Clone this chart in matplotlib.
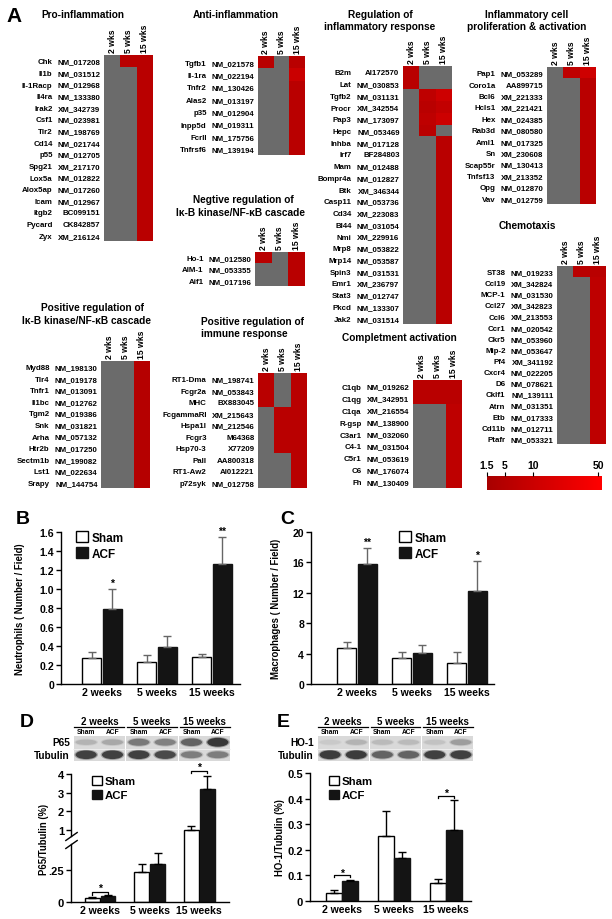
import numpy as np
import matplotlib
matplotlib.use('Agg')
import matplotlib.pyplot as plt
from matplotlib.colors import LinearSegmentedColormap, FuncNorm
from matplotlib.patches import Patch, Ellipse, Rectangle
from matplotlib.cm import ScalarMappable

plt.rcParams['font.family'] = ['Liberation Sans', 'DejaVu Sans']
plt.rcParams['font.weight'] = 'bold'
plt.rcParams['axes.labelweight'] = 'bold'

na = np.nan

# ---- panel A: fold changes (2 wks, 5 wks, 15 wks); nan = not changed (grey)
wks_short = ['2 wks', '5 wks', '15 wks']

pro_genes = ['Chk', 'Il1b', 'Il-1Racp', 'Il4ra', 'Irak2', 'Csf1', 'Tlr2', 'Cd14',
             'p55', 'Spg21', 'Lox5a', 'Alox5ap', 'Icam', 'Itgb2', 'Pycard', 'Zyx']
pro_ids = ['NM_017208', 'NM_031512', 'NM_012968', 'NM_133380', 'XM_342739', 'NM_023981',
           'NM_198769', 'NM_021744', 'NM_012705', 'XM_217170', 'NM_012822', 'NM_017260',
           'NM_012967', 'BC099151', 'CK842857', 'XM_216124']
pro_fc = [(na, 6, 6), (na, na, 6), (na, na, 6), (na, na, 6), (na, na, 6), (na, na, 6),
          (na, na, 6), (na, na, 6), (na, na, 6), (na, na, 6), (na, na, 6), (na, na, 6),
          (na, na, 6), (na, na, 6), (na, na, 6), (na, na, 6)]

anti_genes = ['Tgfb1', 'Il-1ra', 'Tnfr2', 'Alas2', 'p35', 'Inpp5d', 'FcrII', 'Tnfrsf6']
anti_ids = ['NM_021578', 'NM_022194', 'NM_130426', 'NM_013197', 'NM_012904', 'NM_019311',
            'NM_175756', 'NM_139194']
anti_fc = [(6, na, 6), (na, na, 10), (na, na, 6), (na, na, 6), (na, na, 6), (na, na, 6),
           (na, na, 6), (na, na, 6)]

neg_genes = ['Ho-1', 'AIM-1', 'Aif1']
neg_ids = ['NM_012580', 'NM_053355', 'NM_017196']
neg_fc = [(6, na, 6), (na, na, 6), (na, na, 6)]

posnf_genes = ['Myd88', 'Tlr4', 'Tnfr1', 'Il1bc', 'Tgm2', 'Snk', 'Arha', 'Htr2b', 'Sectm1b',
               'Lst1', 'Srapy']
posnf_ids = ['NM_198130', 'NM_019178', 'NM_013091', 'NM_012762', 'NM_019386', 'NM_031821',
             'NM_057132', 'NM_017250', 'NM_199082', 'NM_022634', 'NM_144754']
posnf_fc = [(na, na, 5), (na, na, 5), (na, na, 5), (na, na, 5), (na, na, 5), (na, na, 5),
            (na, na, 5), (na, na, 5), (na, na, 5), (na, na, 5), (na, na, 5)]

posimm_genes = ['RT1-Dma', 'Fcgr2a', 'MHC', 'FcgammaRI', 'Hspa1l', 'Fcgr3', 'Hsp70-3',
                'Pall', 'RT1-Aw2', 'p72syk']
posimm_ids = ['NM_198741', 'NM_053843', 'BX883045', 'XM_215643', 'NM_212546', 'M64368',
              'X77209', 'AA800318', 'AI012221', 'NM_012758']
posimm_fc = [(6, na, 6), (6, na, 6), (6, na, 6), (na, 6, 6), (na, 6, 6), (na, 6, 6),
             (na, 6, 6), (na, na, 6), (na, na, 6), (na, na, 6)]

reg_genes = ['B2m', 'Lat', 'Tgfb2', 'Procr', 'Pap3', 'Hepc', 'Inhba', 'Irf7', 'Mam',
             'Bompr4a', 'Btk', 'Casp11', 'Cd34', 'Bl44', 'Nmi', 'Mrp8', 'Mrp14', 'Spin3',
             'Emr1', 'Stat3', 'Pkcd', 'Jak2']
reg_ids = ['AI172570', 'NM_030853', 'NM_031131', 'XM_342554', 'NM_173097', 'NM_053469',
           'NM_017128', 'BF284803', 'NM_012488', 'NM_012827', 'XM_346344', 'NM_053736',
           'XM_223083', 'NM_031054', 'XM_229916', 'NM_053822', 'NM_053587', 'NM_031531',
           'XM_236797', 'NM_012747', 'NM_133307', 'NM_031514']
reg_fc = [(6, na, na), (6, na, na), (na, 7, 12), (na, 6, 8), (na, 7, 11), (na, 6, na),
          (na, na, 6), (na, na, 6), (na, na, 6), (na, na, 6), (na, na, 6), (na, na, 6),
          (na, na, 6), (na, na, 6), (na, na, 6), (na, na, 6), (na, na, 6), (na, na, 6),
          (na, na, 6), (na, na, 6), (na, na, 6), (na, na, 6)]

compl_genes = ['C1qb', 'C1qg', 'C1qa', 'R-gsp', 'C3ar1', 'C4-1', 'C5r1', 'C6', 'Fh']
compl_ids = ['NM_019262', 'XM_342951', 'XM_216554', 'NM_138900', 'NM_032060', 'NM_031504',
             'NM_053619', 'NM_176074', 'NM_130409']
compl_fc = [(6, 6, 6), (6, 6, 6), (na, na, 7), (na, na, 7), (na, na, 7), (na, na, 7),
            (na, na, 7), (na, na, 7), (na, na, 7)]

prolif_genes = ['Pap1', 'Coro1a', 'Bcl6', 'Hcls1', 'Hex', 'Rab3d', 'Aml1', 'Sn', 'Scap55r',
                'Tnfsf13', 'Opg', 'Vav']
prolif_ids = ['NM_053289', 'AA899715', 'XM_221333', 'XM_221421', 'NM_024385', 'NM_080580',
              'NM_017325', 'XM_230608', 'NM_130413', 'XM_213352', 'NM_012870', 'NM_012759']
prolif_fc = [(na, 7, 13), (na, na, 6), (na, na, 6), (na, na, 6), (na, na, 6), (na, na, 6),
             (na, na, 6), (na, na, 6), (na, na, 6), (na, na, 6), (na, na, 6), (na, na, 6)]

chemo_genes = ['ST38', 'Ccl19', 'MCP-1', 'Ccl27', 'Ccl6', 'Ccr1', 'Ckr5', 'Mip-2', 'Pf4',
               'Cxcr4', 'D6', 'Cklf1', 'Atrn', 'Etb', 'Cd11b', 'Ptafr']
chemo_ids = ['NM_019233', 'XM_342824', 'NM_031530', 'XM_342823', 'XM_213553', 'NM_020542',
             'NM_053960', 'NM_053647', 'XM_341192', 'NM_022205', 'NM_078621', 'NM_139111',
             'NM_031351', 'NM_017333', 'NM_012711', 'NM_053321']
chemo_fc = [(na, 6, 6), (na, na, 7), (na, na, 7), (na, na, 7), (na, na, 7), (na, na, 7),
            (na, na, 7), (na, na, 7), (na, na, 7), (na, na, 7), (na, na, 7), (na, na, 7),
            (na, na, 7), (na, na, 7), (na, na, 7), (na, na, 7)]

cbar_ticks = [1.5, 5, 10, 50]

# ---- panels B-E
weeks = ['2 weeks', '5 weeks', '15 weeks']

neut_sham = [0.277, 0.235, 0.288]
neut_sham_err = [0.063, 0.07, 0.031]
neut_acf = [0.786, 0.393, 1.26]
neut_acf_err = [0.214, 0.112, 0.29]
neut_stars = ['*', '', '**']

mac_sham = [4.79, 3.38, 2.81]
mac_sham_err = [0.70, 0.88, 1.37]
mac_acf = [15.74, 4.09, 12.18]
mac_acf_err = [2.2, 1.05, 4.0]
mac_stars = ['**', '', '*']

p65_sham = [0.030, 0.234, 1.0]
p65_sham_err = [0.007, 0.066, 0.21]
p65_acf = [0.047, 0.297, 3.19]
p65_acf_err = [0.004, 0.083, 0.70]
p65_stars = ['*', '', '*']

ho1_sham = [0.031, 0.253, 0.070]
ho1_sham_err = [0.011, 0.10, 0.017]
ho1_acf = [0.078, 0.168, 0.279]
ho1_acf_err = [0.003, 0.023, 0.117]
ho1_stars = ['*', '', '*']

lanes = ['Sham', 'ACF', 'Sham', 'ACF', 'Sham', 'ACF']
p65_band = [0.35, 0.4, 0.62, 0.58, 0.72, 0.92]
d_tub_band = [0.88, 0.88, 0.88, 0.84, 0.6, 0.6]
ho1_band = [0.25, 0.35, 0.32, 0.32, 0.28, 0.45]
e_tub_band = [0.9, 0.9, 0.72, 0.72, 0.88, 0.88]

W, H = 612, 920
fig = plt.figure(figsize=(6.12, 9.2), dpi=100)


def add_px(x0, y0, x1, y1):
    return fig.add_axes([x0 / W, 1 - y1 / H, (x1 - x0) / W, (y1 - y0) / H])


def ftext(x, y, s, **kw):
    kw.setdefault('va', 'center')
    return fig.text(x / W, 1 - y / H, s, **kw)


# colour scale of the heat maps (bar is not linear in fold change)
fc_v = [0, 1.5, 5, 10, 50, 53, 1000]
fc_t = [-0.1, 0, 0.157, 0.4, 0.965, 1.0, 40]
norm = FuncNorm((lambda v: np.interp(v, fc_v, fc_t), lambda t: np.interp(t, fc_t, fc_v)),
                vmin=1.5, vmax=53)
cmap = LinearSegmentedColormap.from_list('fc', ['#a80000', '#ff0000'])
cmap.set_bad('#6b6b6b')


def heat(genes, ids, fc, x0, y0, x1, y1):
    ax = add_px(x0, y0, x1, y1)
    ax.imshow(np.array(fc, dtype=float), cmap=cmap, norm=norm, aspect='auto',
              interpolation='nearest')
    ax.set_xticks([0, 1, 2], wks_short, rotation=90, fontsize=6.2)
    ax.xaxis.tick_top()
    ax.set_yticks(range(len(ids)), ids, fontsize=5.7)
    ax.tick_params(length=0, pad=2.5)
    for s in ax.spines.values():
        s.set_visible(False)
    for i, g in enumerate(genes):
        ax.annotate(g, (0, i), xycoords=('axes fraction', 'data'), xytext=(-37, 0),
                    textcoords='offset points', ha='right', va='center_baseline',
                    fontsize=5.7)
    return ax


ftext(6, 16, 'A', fontsize=15)
tsz = 7.3
heat(pro_genes, pro_ids, pro_fc, 104, 56, 153, 242)
ftext(83, 15, 'Pro-inflammation', ha='center', fontsize=tsz)

heat(anti_genes, anti_ids, anti_fc, 258, 57, 305, 156)
ftext(236, 15, 'Anti-inflammation', ha='center', fontsize=tsz)

heat(neg_genes, neg_ids, neg_fc, 255, 253, 305, 287)
ftext(243, 200, 'Negtive regulation of', ha='center', fontsize=tsz)
ftext(241, 213, 'I\u03ba-B kinase/NF-\u03baB cascade', ha='center', fontsize=tsz)

heat(posnf_genes, posnf_ids, posnf_fc, 101, 362, 150, 489)
ftext(93, 308, 'Positive regulation of', ha='center', fontsize=tsz)
ftext(86, 321, 'I\u03ba-B kinase/NF-\u03baB cascade', ha='center', fontsize=tsz)

heat(posimm_genes, posimm_ids, posimm_fc, 258, 374, 307, 489)
ftext(201, 322, 'Positive regulation of', ha='left', fontsize=tsz)
ftext(201, 334, 'immune response', ha='left', fontsize=tsz)

heat(reg_genes, reg_ids, reg_fc, 403, 67, 452, 325)
ftext(380, 15, 'Regulation of', ha='center', fontsize=tsz)
ftext(380, 27, 'inflammatory response', ha='center', fontsize=tsz)

heat(compl_genes, compl_ids, compl_fc, 413, 381, 462, 489)
ftext(399, 338, 'Completment activation', ha='center', fontsize=tsz)

heat(prolif_genes, prolif_ids, prolif_fc, 547, 68, 595, 205)
ftext(527, 15, 'Inflammatory cell', ha='center', fontsize=tsz)
ftext(527, 27, 'proliferation & activation', ha='center', fontsize=tsz)

heat(chemo_genes, chemo_ids, chemo_fc, 557, 267, 606, 445)
ftext(527, 226, 'Chemotaxis', ha='center', fontsize=tsz)

cax = add_px(487, 477, 602, 491)
cb = fig.colorbar(ScalarMappable(norm=norm, cmap=cmap), cax=cax, orientation='horizontal')
cb.set_ticks(cbar_ticks, labels=['1.5', '5', '10', '50'])
cb.minorticks_off()
cb.outline.set_visible(False)
cax.xaxis.set_ticks_position('top')
cax.tick_params(length=3, width=0.8, pad=1, labelsize=7.5)


# ---- bar charts
def style_bar_axes(ax, ylabel, lx):
    for s in ['top', 'right']:
        ax.spines[s].set_visible(False)
    for s in ['left', 'bottom']:
        ax.spines[s].set_linewidth(1.0)
    ax.tick_params(axis='y', length=3.5, width=1, pad=1.5)
    ax.tick_params(axis='x', length=0, pad=2)
    ax.set_xticks([0, 1, 2], weeks, fontsize=7.6)
    ax.set_ylabel(ylabel, fontsize=6.9)
    ax.yaxis.set_label_coords(lx, 0.5)


def draw_bars(ax, sham, sham_err, acf, acf_err, off, width, ecolor):
    x = np.arange(len(sham))
    ax.bar(x - off, sham, width, color='white', edgecolor='black', linewidth=1.0)
    ax.bar(x + off, acf, width, color='#141414', edgecolor='#141414', linewidth=1.0)
    ax.errorbar(x - off, sham, yerr=[np.zeros(3), sham_err], fmt='none', ecolor=ecolor,
                elinewidth=1.0, capsize=3.2, capthick=1.0)
    ax.errorbar(x + off, acf, yerr=[np.zeros(3), acf_err], fmt='none', ecolor=ecolor,
                elinewidth=1.0, capsize=3.2, capthick=1.0)
    return x


def legend(ax, x, y, size, hl):
    handles = [Patch(facecolor='white', edgecolor='black', linewidth=1.0, label='Sham'),
               Patch(facecolor='#141414', edgecolor='#141414', label='ACF')]
    ax.legend(handles=handles, loc='upper left', bbox_to_anchor=(x / W, 1 - y / H),
              bbox_transform=fig.transFigure, frameon=False, fontsize=size,
              handlelength=hl, handleheight=hl, handletextpad=0.3, labelspacing=0.3,
              borderpad=0, borderaxespad=0)


# B
axb = add_px(61, 533, 240, 685)
xb = draw_bars(axb, neut_sham, neut_sham_err, neut_acf, neut_acf_err, 0.19, 0.35, '#666666')
axb.set_xlim(-0.745, 2.51)
axb.set_ylim(0, 1.6)
axb.set_yticks(np.arange(0, 1.61, 0.2),
               ['0', '0.2', '0.4', '0.6', '0.8', '1.0', '1.2', '1.4', '1.6'], fontsize=7.6)
style_bar_axes(axb, 'Neutrophils ( Number / Field)', -0.2)
for i, s in enumerate(neut_stars):
    if s:
        axb.text(xb[i] + 0.19, neut_acf[i] + neut_acf_err[i] + 0.01, s, ha='center',
                 va='bottom', fontsize=7.5)
legend(axb, 76, 532, 8.5, 1.05)
ftext(16, 520, 'B', fontsize=14)

# C
axc = add_px(311, 533, 494, 685)
xc = draw_bars(axc, mac_sham, mac_sham_err, mac_acf, mac_acf_err, 0.19, 0.35, '#666666')
axc.set_xlim(-0.836, 2.49)
axc.set_ylim(0, 20)
axc.set_yticks([0, 4, 8, 12, 16, 20], ['0', '4', '8', '12', '16', '20'], fontsize=7.6)
style_bar_axes(axc, 'Macrophages ( Number / Field)', -0.165)
for i, s in enumerate(mac_stars):
    if s:
        axc.text(xc[i] + 0.19, mac_acf[i] + mac_acf_err[i] + 0.1, s, ha='center',
                 va='bottom', fontsize=7.5)
legend(axc, 399, 532, 8.5, 1.05)
ftext(280, 520, 'C', fontsize=14)


# western blots
def blot(x0, x1, y0, row_names, bands, headers_x_pad=0.05):
    ax = add_px(x0, y0, x1, y0 + 25)
    ax.set_xlim(0, 6)
    ax.set_ylim(2, 0)
    ax.axis('off')
    for g in range(3):
        ax.add_patch(Rectangle((2 * g + 0.02, 0), 1.96, 2, color='#d9d9d9', lw=0))
        ax.text(2 * g + 1, -1.2, weeks[g], ha='center', va='center', fontsize=7)
        ax.plot([2 * g + headers_x_pad, 2 * g + 2 - headers_x_pad], [-0.72, -0.72],
                color='black', lw=0.9, clip_on=False)
    ax.axhline(1, color='#f2f2f2', lw=0.6)
    for lane in range(6):
        ax.text(lane + 0.5, -0.33, lanes[lane], ha='center', va='center', fontsize=4.8)
    for r in range(2):
        ax.text(-0.12, r + 0.5, row_names[r], ha='right', va='center', fontsize=7.2)
        for lane in range(6):
            d = bands[r][lane]
            h = 0.25 + 0.5 * d
            g = 1 - 0.85 * d
            ax.add_patch(Ellipse((lane + 0.5, r + 0.5), 0.9, h + 0.15,
                                 color=(g, g, g), alpha=0.35, lw=0))
            ax.add_patch(Ellipse((lane + 0.5, r + 0.5), 0.8, h, color=(g, g, g), lw=0))
    return ax


blot(73, 231, 737, ['P65', 'Tubulin'], [p65_band, d_tub_band])
blot(317, 474, 737, ['HO-1', 'Tubulin'], [ho1_band, e_tub_band])
ftext(20, 723, 'D', fontsize=14)
ftext(277, 723, 'E', fontsize=14)

# D with broken y axis
d_v = [-1, 0, 0.45, 0.68, 10]
d_t = [-128, 0, 57.6, 65.6, 65.6 + 9.32 * 18.7]
axd = add_px(71, 775, 229, 903)
axd.set_yscale('function', functions=(lambda v: np.interp(v, d_v, d_t),
                                      lambda t: np.interp(t, d_t, d_v)))
xd = draw_bars(axd, p65_sham, p65_sham_err, p65_acf, p65_acf_err, 0.16, 0.3, 'black')
axd.set_xlim(-0.586, 2.6)
axd.set_ylim(0, 4)
axd.set_yticks([0, 0.25, 1, 2, 3, 4], ['0', '.25', '1', '2', '3', '4'], fontsize=8)
axd.yaxis.set_minor_locator(matplotlib.ticker.NullLocator())
style_bar_axes(axd, 'P65/Tubulin (%)', -0.14)
axd.spines['left'].set_visible(False)
ytr = axd.get_yaxis_transform()
axd.plot([0, 0], [0, d_v[2]], transform=ytr, color='black', lw=1.0, clip_on=False)
axd.plot([0, 0], [d_v[3], 4], transform=ytr, color='black', lw=1.0, clip_on=False)
axd.plot([0, 0], [d_v[2], d_v[3]], transform=ytr, ls='none', color='black',
         marker=[(-1, -0.7), (1, 0.7)], ms=9, mew=1.0, clip_on=False)
legend(axd, 92, 777, 8.2, 0.85)

# E
axe = add_px(310, 774, 471, 902)
xe = draw_bars(axe, ho1_sham, ho1_sham_err, ho1_acf, ho1_acf_err, 0.15, 0.3, 'black')
axe.set_xlim(-0.615, 2.48)
axe.set_ylim(0, 0.5)
axe.set_yticks([0, 0.1, 0.2, 0.3, 0.4, 0.5], ['0', '0.1', '0.2', '0.3', '0.4', '0.5'],
               fontsize=8)
style_bar_axes(axe, 'HO-1/Tubulin (%)', -0.155)
legend(axe, 329, 777, 8.2, 0.85)


def brackets(ax, x, sham, sham_err, acf, acf_err, stars, off, gap, drop, star_gap):
    for i, s in enumerate(stars):
        if not s:
            continue
        top = max(sham[i] + sham_err[i], acf[i] + acf_err[i])
        yb = top + gap[i]
        ax.plot([x[i] - off, x[i] - off, x[i] + off, x[i] + off],
                [yb - drop[i], yb, yb, yb - drop[i]], color='black', lw=0.9, clip_on=False)
        ax.text(x[i], yb + star_gap[i], s, ha='center', va='center', fontsize=7.5,
                clip_on=False)


brackets(axd, xd, p65_sham, p65_sham_err, p65_acf, p65_acf_err, p65_stars, 0.16,
         [0.027, 0, 0.29], [0.02, 0, 0.12], [0.03, 0, 0.2])
brackets(axe, xe, ho1_sham, ho1_sham_err, ho1_acf, ho1_acf_err, ho1_stars, 0.15,
         [0.019, 0, 0.014], [0.008, 0, 0.008], [0.01, 0, 0.012])

fig.savefig('out.png', dpi=100)
